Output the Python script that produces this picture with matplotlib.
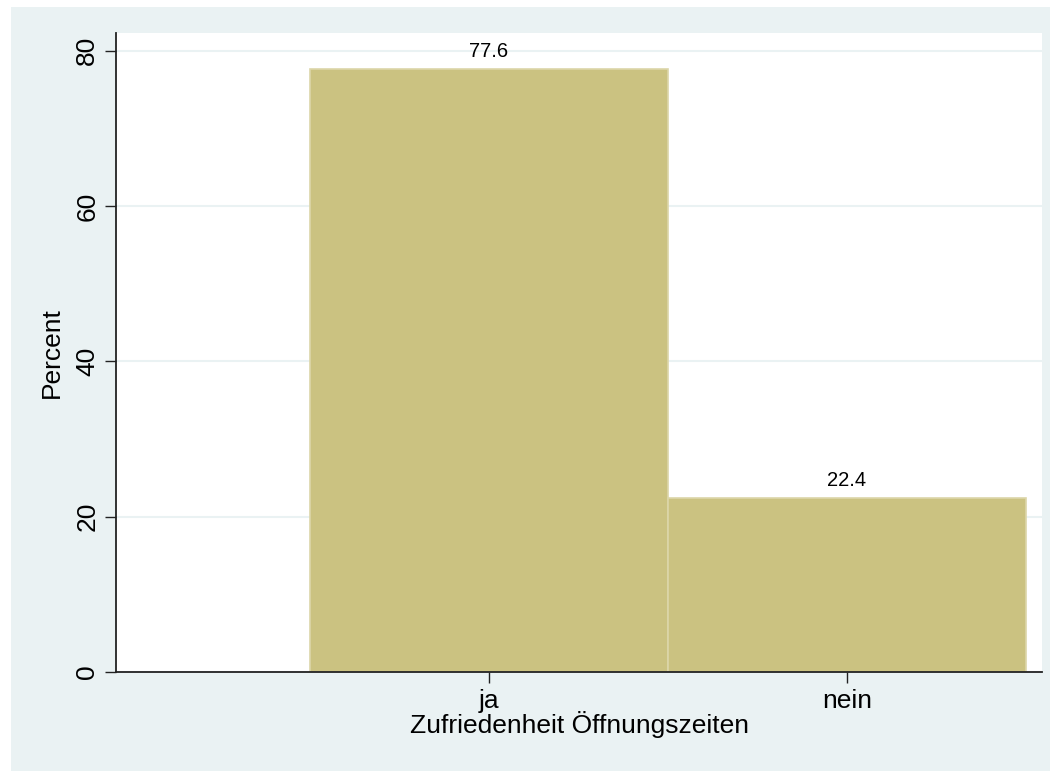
import matplotlib
matplotlib.use('Agg')
import matplotlib.pyplot as plt
from matplotlib.patches import Rectangle

categories = ['ja', 'nein']
percent = [77.6, 22.4]
yticks = [0, 20, 40, 60, 80]

plt.rcParams['font.family'] = ['Liberation Sans', 'DejaVu Sans']

bg = '#eaf2f3'
fig = plt.figure(figsize=(10.5, 7.71), dpi=100, facecolor='white')
# outer graph region (Stata style), with a thin white margin top/left
fig.patches.append(Rectangle((11 / 1050, 0), 1 - 11 / 1050, 1 - 7 / 771,
                             transform=fig.transFigure, facecolor=bg,
                             edgecolor='none', zorder=-10))

ax = fig.add_axes([116 / 1050, 1 - 672 / 771, (1042 - 116) / 1050, (672 - 33) / 771])
ax.set_facecolor('white')

pos = [1, 2]
ax.bar(pos, percent, width=1.0, color='#cbc281', edgecolor='#dcd6a9',
       linewidth=1.2, zorder=2)
for x, v in zip(pos, percent):
    ax.text(x, v + 1.1, f'{v:.1f}', ha='center', va='bottom', fontsize=14.5, zorder=3)

ax.set_xlim(-0.042, 2.545)
ax.set_ylim(0, 82.3)
ax.set_yticks(yticks)
ax.set_yticklabels([str(t) for t in yticks], rotation=90, va='center', fontsize=19)
ax.set_xticks(pos)
ax.set_xticklabels(categories, fontsize=19)
ax.grid(axis='y', color=bg, linewidth=1.5, zorder=0)
ax.set_axisbelow(True)

for s in ['top', 'right']:
    ax.spines[s].set_visible(False)
for s in ['left', 'bottom']:
    ax.spines[s].set_color('#222222')
    ax.spines[s].set_linewidth(1.3)
ax.tick_params(axis='both', length=8, width=1.0, color='#222222', pad=4)

ax.set_ylabel('Percent', fontsize=19, labelpad=8)
ax.set_xlabel('Zufriedenheit Öffnungszeiten', fontsize=19, labelpad=-1)

fig.savefig('out.png', dpi=100, facecolor='white')
